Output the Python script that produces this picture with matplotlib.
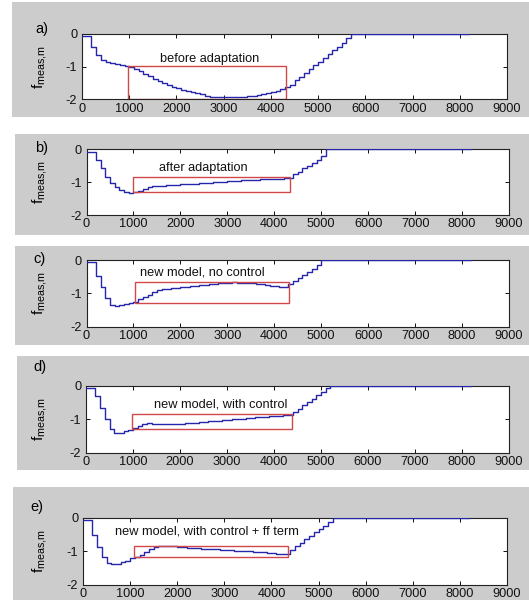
import numpy as np
import matplotlib
matplotlib.use('Agg')
import matplotlib.pyplot as plt
from matplotlib.patches import Rectangle
from matplotlib import font_manager

names = {f.name for f in font_manager.fontManager.ttflist}
FAM = ['Liberation Sans Narrow'] if 'Liberation Sans Narrow' in names else ['Liberation Sans']
plt.rcParams['font.family'] = FAM + ['DejaVu Sans']
plt.rcParams['mathtext.default'] = 'regular'

# ---------------- data ----------------
STEP = 100      # sample spacing of the staircase
X_END = 8200    # last sample

x_ticks = [0, 1000, 2000, 3000, 4000, 5000, 6000, 7000, 8000, 9000]
y_ticks = [-2, -1, 0]

panel_labels = ['a)', 'b)', 'c)', 'd)', 'e)']
titles = ['before adaptation', 'after adaptation', 'new model, no control',
          'new model, with control', 'new model, with control + ff term']

y_a = [-0.05, -0.05, -0.39, -0.64, -0.80, -0.86, -0.90, -0.93, -0.95, -0.97,
       -1.00, -1.06, -1.13, -1.21, -1.29, -1.37, -1.44, -1.50, -1.56, -1.61,
       -1.66, -1.70, -1.74, -1.78, -1.81, -1.84, -1.88, -1.91, -1.92, -1.93,
       -1.93, -1.93, -1.93, -1.93, -1.92, -1.90, -1.88, -1.86, -1.84, -1.81,
       -1.77, -1.73, -1.68, -1.62, -1.56, -1.41, -1.31, -1.20, -1.07, -0.95,
       -0.85, -0.74, -0.61, -0.49, -0.39, -0.27, -0.13, 0.00]
y_b = [-0.08, -0.08, -0.33, -0.59, -0.84, -1.04, -1.14, -1.24, -1.31, -1.33,
       -1.30, -1.27, -1.22, -1.16, -1.13, -1.12, -1.11, -1.10, -1.09, -1.08,
       -1.07, -1.06, -1.05, -1.05, -1.04, -1.03, -1.02, -1.01, -1.00, -0.99,
       -0.98, -0.97, -0.96, -0.95, -0.95, -0.94, -0.93, -0.92, -0.92, -0.91,
       -0.90, -0.90, -0.89, -0.88, -0.77, -0.69, -0.59, -0.51, -0.43, -0.33,
       -0.20, 0.00]
y_c = [-0.06, -0.06, -0.48, -0.80, -1.13, -1.35, -1.38, -1.36, -1.33, -1.29,
       -1.25, -1.18, -1.12, -1.05, -0.97, -0.91, -0.88, -0.86, -0.85, -0.83,
       -0.82, -0.80, -0.79, -0.77, -0.76, -0.74, -0.73, -0.71, -0.70, -0.69,
       -0.68, -0.67, -0.68, -0.69, -0.70, -0.70, -0.71, -0.72, -0.74, -0.77,
       -0.79, -0.81, -0.81, -0.73, -0.64, -0.55, -0.45, -0.36, -0.26, -0.15,
       0.00]
y_d = [-0.06, -0.06, -0.30, -0.65, -1.00, -1.30, -1.40, -1.40, -1.36, -1.31,
       -1.26, -1.20, -1.15, -1.12, -1.13, -1.14, -1.15, -1.15, -1.15, -1.14,
       -1.13, -1.12, -1.11, -1.10, -1.08, -1.07, -1.06, -1.05, -1.04, -1.02,
       -1.01, -1.00, -0.99, -0.98, -0.97, -0.95, -0.94, -0.93, -0.92, -0.91,
       -0.90, -0.89, -0.88, -0.86, -0.78, -0.68, -0.58, -0.48, -0.38, -0.28,
       -0.18, -0.06, 0.00]
y_e = [-0.06, -0.06, -0.50, -0.88, -1.18, -1.36, -1.38, -1.37, -1.33, -1.28,
       -1.21, -1.17, -1.10, -1.02, -0.93, -0.88, -0.85, -0.84, -0.84, -0.85,
       -0.86, -0.87, -0.89, -0.90, -0.91, -0.92, -0.93, -0.93, -0.94, -0.95,
       -0.96, -0.97, -0.98, -0.99, -1.00, -1.00, -1.01, -1.01, -1.02, -1.04,
       -1.06, -1.08, -1.08, -1.07, -0.95, -0.85, -0.75, -0.64, -0.53, -0.43,
       -0.33, -0.23, -0.12, 0.00]
series = [y_a, y_b, y_c, y_d, y_e]

text_x = [2712, 2480, 2470, 2870, 2625]
text_y = [-0.95, -0.77, -0.56, -0.73, -0.58]
box_x0 = [970, 986, 1028, 979, 1091]
box_x1 = [4316, 4331, 4322, 4373, 4357]
box_lo = [-1.99, -1.31, -1.28, -1.30, -1.18]
box_hi = [-0.97, -0.86, -0.66, -0.83, -0.84]

# ---------------- layout (pixels) ----------------
W, H = 529, 602
gray_px = [(12, 2, 529, 117), (15, 134, 529, 235), (15, 246, 529, 345),
           (17, 356, 529, 470), (13, 487, 529, 600)]
axes_px = [(82, 34, 507, 99.5), (86.5, 149, 509, 215), (86.5, 260, 509, 326.7),
           (86, 386, 509, 452.7), (83, 518, 507, 584.7)]
label_px = [(35, 29), (35, 148), (33, 259), (33, 367), (30, 507)]

BLUE = '#2626aa'
RED = '#d04848'
GRAY = '#cccccc'

fig = plt.figure(figsize=(W / 100, H / 100), dpi=100)
fig.patch.set_facecolor('white')

def frac(x0, y0, x1, y1):
    return [x0 / W, 1 - y1 / H, (x1 - x0) / W, (y1 - y0) / H]

for i in range(5):
    g = frac(*gray_px[i])
    fig.patches.append(Rectangle((g[0], g[1]), g[2], g[3], transform=fig.transFigure,
                                 facecolor=GRAY, edgecolor='none', zorder=-10))
    ax = fig.add_axes(frac(*axes_px[i]))
    ax.set_facecolor('white')
    ys = series[i] + [series[i][-1]]
    xs = list(np.arange(len(series[i])) * STEP) + [X_END]
    ax.plot(xs, ys, drawstyle='steps-post', color=BLUE, lw=1.0, zorder=3)
    ax.add_patch(Rectangle((box_x0[i], box_lo[i]), box_x1[i] - box_x0[i],
                           box_hi[i] - box_lo[i], fill=False, edgecolor=RED,
                           lw=1.0, zorder=4))
    ax.text(text_x[i], text_y[i], titles[i], ha='center', va='bottom',
            fontsize=9.2, color='#111111', zorder=5)
    ax.set_xlim(0, 9000)
    ax.set_ylim(-2, 0)
    ax.set_xticks(x_ticks)
    ax.set_yticks(y_ticks)
    ax.set_xticklabels([str(t) for t in x_ticks])
    ax.set_yticklabels([str(t) for t in y_ticks])
    ax.tick_params(direction='in', top=True, right=True, length=3.2, width=0.7,
                   labelsize=9.2, colors='#111111')
    ax.tick_params(axis='x', pad=2.5)
    ax.tick_params(axis='y', pad=3.5)
    for s in ax.spines.values():
        s.set_linewidth(0.8)
        s.set_color('#222222')
    ax.set_ylabel(r'$f_{meas{,}m}$', fontsize=11)
    ax.yaxis.set_label_coords((49 - axes_px[i][0]) / (axes_px[i][2] - axes_px[i][0]), 0.5)
    lx, ly = label_px[i]
    fig.text(lx / W, 1 - ly / H, panel_labels[i], ha='left', va='center', fontsize=10.5)

fig.savefig('out.png', dpi=100)
